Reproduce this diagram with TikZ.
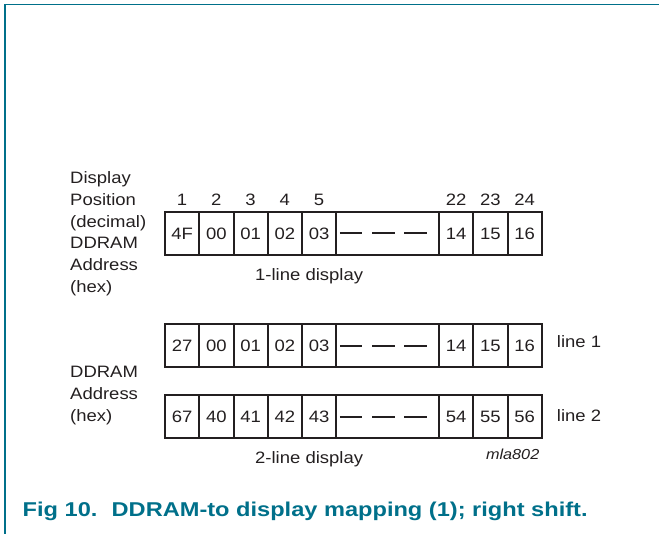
\documentclass[tikz,border=0pt]{standalone}
\usepackage{fontspec}
\setmainfont{Liberation Sans}[FakeStretch=1.12]
\newfontfamily\captionfont{Liberation Sans}[FakeStretch=1.18]
\definecolor{nxpteal}{RGB}{0,112,138}
\definecolor{ink}{RGB}{35,31,32}
\tikzset{
  txt/.style={font=\fontsize{16.5}{19.8}\selectfont, text=ink, inner sep=0pt},
  cellbox/.style={draw=ink, line width=2pt, minimum width=34.25pt, minimum height=43pt,
                  inner sep=0pt, anchor=north west, txt},
  gapbox/.style={cellbox, minimum width=102.75pt},
  gapdash/.style={draw=ink, line width=2pt, dash pattern=on 22.5pt off 9.8pt},
  caption/.style={font=\captionfont\fontsize{20}{24}\selectfont\bfseries, text=nxpteal, inner sep=0pt}
}
\begin{document}
\begin{tikzpicture}[x=1pt, y=-1pt]
\useasboundingbox (0,0) rectangle (659,534);
% frame rules
\draw[nxpteal, line width=1.3pt] (5,534) -- (5,4.5) -- (659,4.5);

% ---- 1-line display ----
\foreach \t/\lab [count=\i from 0] in {4F/1,00/2,01/3,02/4,03/5}{
  \node[cellbox] (r1c\i) at (164+34.25*\i, 211) {\t};
  \node[txt, anchor=base] (p\i) at (r1c\i.north |- 0,206) {\lab};
}
\node[gapbox] (r1gap) at (335.25, 211) {};
\draw[gapdash] ([xshift=4.5pt]r1gap.west) -- ([xshift=-11pt]r1gap.east);
\foreach \t/\lab [count=\i from 0] in {14/22,15/23,16/24}{
  \node[cellbox] (r1e\i) at (438+34.25*\i, 211) {\t};
  \node[txt, anchor=base] (q\i) at (r1e\i.north |- 0,206) {\lab};
}
\node[txt, anchor=base west] (cap1) at (255, 280.7) {1-line display};

% labels at left
\node[txt, anchor=base west] (l1) at (70, 183.5) {Display};
\node[txt, anchor=base west] (l2) at (70, 205.3) {Position};
\node[txt, anchor=base west] (l3) at (70, 227.1) {(decimal)};
\node[txt, anchor=base west] (l4) at (70, 248.9) {DDRAM};
\node[txt, anchor=base west] (l5) at (70, 270.7) {Address};
\node[txt, anchor=base west] (l6) at (70, 292.5) {(hex)};

% ---- 2-line display ----
\foreach \row/\top/\a/\b/\c/\d/\e/\f/\g/\h in
    {2/323.3/27/00/01/02/03/14/15/16, 3/394.3/67/40/41/42/43/54/55/56}{
  \node[cellbox] (r\row c0) at (164, \top) {\a};
  \node[cellbox] (r\row c1) at (198.25, \top) {\b};
  \node[cellbox] (r\row c2) at (232.5, \top) {\c};
  \node[cellbox] (r\row c3) at (266.75, \top) {\d};
  \node[cellbox] (r\row c4) at (301, \top) {\e};
  \node[gapbox] (r\row gap) at (335.25, \top) {};
  \draw[gapdash] ([xshift=4.5pt]r\row gap.west) -- ([xshift=-11pt]r\row gap.east);
  \node[cellbox] (r\row e0) at (438, \top) {\f};
  \node[cellbox] (r\row e1) at (472.25, \top) {\g};
  \node[cellbox] (r\row e2) at (506.5, \top) {\h};
}
\node[txt, anchor=base west] (line1) at (556.7, 347.3) {line 1};
\node[txt, anchor=base west] (line2) at (556.7, 421.7) {line 2};

\node[txt, anchor=base west] (m1) at (70, 377.5) {DDRAM};
\node[txt, anchor=base west] (m2) at (70, 399.3) {Address};
\node[txt, anchor=base west] (m3) at (70, 421.1) {(hex)};

\node[txt, anchor=base west] (cap2) at (255, 463.3) {2-line display};
\node[txt, anchor=base east, font=\fontsize{14.5}{17}\selectfont\itshape] (code) at (539.5, 459.3) {mla802};

% ---- caption ----
\node[caption, anchor=base west] (fignum) at (22.5, 516.5) {Fig 10.};
\node[caption, anchor=base west] (figtext) at (111.5, 516.5) {DDRAM-to display mapping (1); right shift.};
\end{tikzpicture}
\end{document}
